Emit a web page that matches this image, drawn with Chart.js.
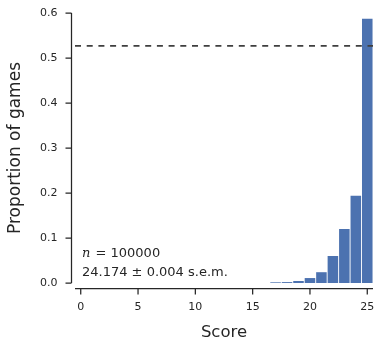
<!DOCTYPE html>
<html>
<head>
<meta charset="utf-8">
<script src="https://cdn.jsdelivr.net/npm/chart.js@4"></script>
<style>
  html, body { margin: 0; padding: 0; background: #fff; }
  #wrap { width: 382px; height: 349px; }
</style>
</head>
<body>
<div id="wrap"><canvas id="chart" width="382" height="349"></canvas></div>
<script>
// histogram of final scores (proportion of games per score)
const scores = [0, 1, 2, 3, 4, 5, 6, 7, 8, 9, 10, 11, 12, 13, 14, 15, 16, 17, 18, 19, 20, 21, 22, 23, 24, 25];
const proportions = [0, 0, 0, 0, 0, 0, 0, 0, 0, 0, 0, 0, 0, 0, 0, 0, 0,
    0.0015, 0.002, 0.0045, 0.011, 0.024, 0.06, 0.12, 0.194, 0.587];
const refLevel = 0.527;
const xTicks = [0, 5, 10, 15, 20, 25];
const yTicks = [0, 0.1, 0.2, 0.3, 0.4, 0.5, 0.6];
const noteLines = ['= 100000', '24.174 \u00b1 0.004 s.e.m.'];

const FONT = 'DejaVu Sans';
const INK = '#262626';

// seaborn style offset spines + tick marks
const spinePlugin = {
    id: 'spines',
    afterDraw(chart) {
        const ctx = chart.ctx;
        const xs = chart.scales.x;
        const ys = chart.scales.y;
        const area = chart.chartArea;
        ctx.save();
        ctx.strokeStyle = INK;
        ctx.lineWidth = 1.25;

        // y spine, trimmed to ticks
        const yx = area.left - 3.5;
        ctx.beginPath();
        ctx.moveTo(yx, ys.getPixelForValue(yTicks[0]));
        ctx.lineTo(yx, ys.getPixelForValue(yTicks[yTicks.length - 1]));
        yTicks.forEach(v => {
            const py = ys.getPixelForValue(v);
            ctx.moveTo(yx, py);
            ctx.lineTo(yx - 6, py);
        });
        ctx.stroke();

        // x spine
        const xy = area.bottom + 5.5;
        ctx.beginPath();
        ctx.moveTo(area.left, xy);
        ctx.lineTo(area.right, xy);
        xTicks.forEach(v => {
            const px = xs.getPixelForValue(v);
            ctx.moveTo(px, xy);
            ctx.lineTo(px, xy + 6);
        });
        ctx.stroke();

        // annotation
        const tx = area.left + 7;
        ctx.fillStyle = INK;
        ctx.textBaseline = 'alphabetic';
        ctx.textAlign = 'left';
        ctx.font = 'italic 13px "DejaVu Serif"';
        ctx.fillText('n', tx, 256.5);
        const nw = ctx.measureText('n ').width;
        ctx.font = '13px "' + FONT + '"';
        ctx.fillText(noteLines[0], tx + nw + 1, 256.5);
        ctx.fillText(noteLines[1], tx, 275.5);
        ctx.restore();
    }
};

function noPad(s) {
    s.paddingTop = 0;
    s.paddingBottom = 0;
    s.paddingLeft = 0;
    s.paddingRight = 0;
}

const ctx = document.getElementById('chart').getContext('2d');

new Chart(ctx, {
    type: 'bar',
    data: {
        datasets: [{
            type: 'line',
            data: [{ x: -0.5, y: refLevel }, { x: 25.5, y: refLevel }],
            borderColor: '#3f3f3f',
            borderWidth: 1.8,
            borderDash: [6, 5.7],
            pointRadius: 0,
            fill: false,
            order: 0
        }, {
            data: scores.map((s, i) => ({ x: s, y: proportions[i] })),
            backgroundColor: '#4C72B0',
            borderWidth: 0,
            barPercentage: 0.92,
            categoryPercentage: 1,
            order: 1
        }]
    },
    options: {
        responsive: false,
        animation: false,
        devicePixelRatio: 1,
        layout: { padding: { top: 13, right: 9, left: 0, bottom: 0 } },
        plugins: {
            legend: { display: false },
            tooltip: { enabled: false }
        },
        scales: {
            x: {
                type: 'linear',
                offset: false,
                min: -0.5,
                max: 25.5,
                afterBuildTicks: s => { s.ticks = xTicks.map(v => ({ value: v })); },
                afterFit: s => { s.height = 66; noPad(s); },
                grid: { display: false, drawTicks: false, offset: false },
                border: { display: false },
                ticks: {
                    color: INK,
                    font: { family: FONT, size: 11 },
                    padding: 18,
                    maxRotation: 0,
                    autoSkip: false,
                    callback: v => String(v)
                },
                title: {
                    display: true,
                    text: 'Score',
                    color: INK,
                    font: { family: FONT, size: 16.5 },
                    padding: { top: 0, bottom: 6 }
                }
            },
            y: {
                min: 0,
                max: 0.6,
                afterBuildTicks: s => { s.ticks = yTicks.map(v => ({ value: v })); },
                afterFit: s => { s.width = 75; noPad(s); },
                grid: { display: false, drawTicks: false },
                border: { display: false },
                ticks: {
                    color: INK,
                    font: { family: FONT, size: 11 },
                    padding: 17.5,
                    callback: v => v.toFixed(1)
                },
                title: {
                    display: true,
                    text: 'Proportion of games',
                    color: INK,
                    font: { family: FONT, size: 17 },
                    padding: { top: 5, bottom: 0 }
                }
            }
        }
    },
    plugins: [spinePlugin]
});
</script>
</body>
</html>
